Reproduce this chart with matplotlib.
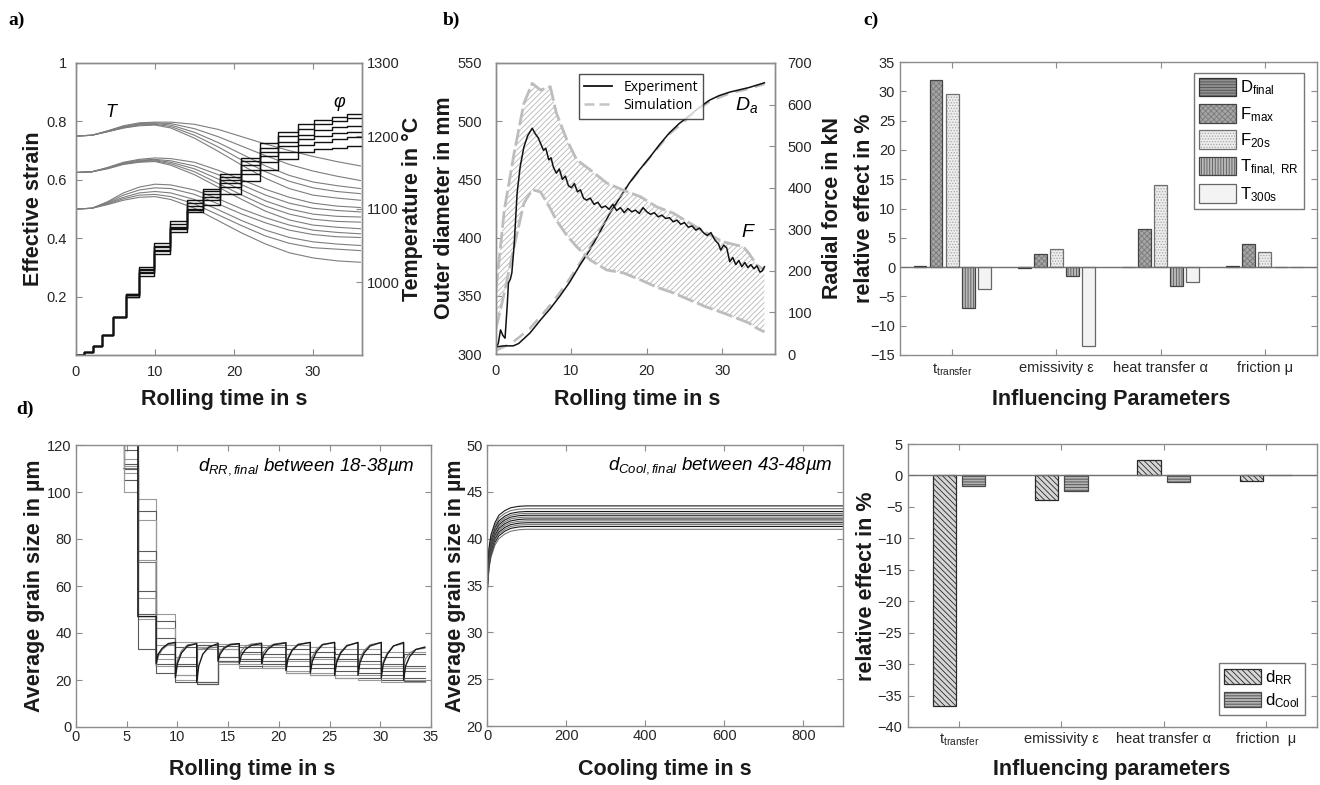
import matplotlib
matplotlib.use('Agg')
import matplotlib.pyplot as plt
from matplotlib.patches import Patch
from matplotlib.lines import Line2D
import numpy as np

plt.rcParams['font.family'] = ['Liberation Sans', 'DejaVu Sans']
plt.rcParams['mathtext.fontset'] = 'custom'
plt.rcParams['mathtext.rm'] = 'Liberation Sans'
plt.rcParams['mathtext.it'] = 'Liberation Sans:italic'
plt.rcParams['mathtext.default'] = 'regular'
plt.rcParams['hatch.linewidth'] = 0.6

# ---------------- a) strain staircases + temperature ----------------
strain_t = [0, 1.0, 2.2, 3.3, 4.7, 6.3, 8.0, 9.9, 11.9, 14.0, 16.1, 18.2, 20.9, 23.3, 25.6, 28.1, 30.1, 32.4, 34.3, 36.2]
strain_1 = [0, 0.01, 0.03, 0.07, 0.13, 0.21, 0.30, 0.385, 0.46, 0.53, 0.57, 0.62, 0.675, 0.725, 0.765, 0.79, 0.805, 0.815, 0.825, 0.825]
strain_2 = [0, 0.01, 0.03, 0.07, 0.13, 0.21, 0.295, 0.375, 0.45, 0.52, 0.56, 0.61, 0.665, 0.71, 0.75, 0.775, 0.79, 0.80, 0.81, 0.81]
strain_3 = [0, 0.01, 0.03, 0.07, 0.13, 0.205, 0.29, 0.37, 0.44, 0.51, 0.55, 0.60, 0.65, 0.695, 0.73, 0.755, 0.77, 0.78, 0.785, 0.785]
strain_4 = [0, 0.01, 0.03, 0.07, 0.13, 0.205, 0.285, 0.36, 0.435, 0.50, 0.54, 0.59, 0.635, 0.68, 0.715, 0.74, 0.75, 0.76, 0.765, 0.765]
strain_5 = [0, 0.01, 0.03, 0.07, 0.13, 0.20, 0.28, 0.355, 0.43, 0.495, 0.53, 0.575, 0.62, 0.66, 0.695, 0.72, 0.73, 0.74, 0.745, 0.745]
strain_6 = [0, 0.01, 0.03, 0.07, 0.13, 0.20, 0.27, 0.345, 0.42, 0.49, 0.515, 0.55, 0.595, 0.635, 0.67, 0.695, 0.705, 0.71, 0.715, 0.715]

temp_t = [0, 2, 4, 6, 8, 10, 12, 15, 18, 21, 24, 27, 30, 33, 36]
temp_1 = [1200, 1201, 1207, 1214, 1218, 1219, 1219, 1216, 1209, 1199, 1189, 1180, 1172, 1165, 1159]
temp_2 = [1200, 1201, 1207, 1213, 1217, 1218, 1217, 1210, 1199, 1186, 1173, 1161, 1152, 1145, 1139]
temp_3 = [1200, 1201, 1206, 1212, 1216, 1217, 1215, 1205, 1191, 1175, 1159, 1146, 1137, 1132, 1128]
temp_4 = [1200, 1201, 1206, 1211, 1215, 1216, 1213, 1201, 1185, 1167, 1151, 1138, 1129, 1124, 1121]
temp_5 = [1200, 1201, 1206, 1211, 1214, 1215, 1211, 1197, 1179, 1160, 1142, 1128, 1119, 1115, 1112]
temp_6 = [1150, 1151, 1157, 1164, 1168, 1170, 1169, 1164, 1153, 1140, 1127, 1116, 1108, 1104, 1102]
temp_7 = [1150, 1151, 1156, 1163, 1167, 1168, 1166, 1159, 1147, 1133, 1119, 1108, 1101, 1098, 1096]
temp_8 = [1150, 1151, 1156, 1162, 1166, 1167, 1164, 1155, 1141, 1126, 1111, 1100, 1093, 1090, 1089]
temp_9 = [1150, 1151, 1156, 1162, 1165, 1166, 1162, 1151, 1135, 1119, 1104, 1093, 1086, 1083, 1082]
temp_10 = [1150, 1151, 1155, 1161, 1164, 1165, 1160, 1147, 1130, 1113, 1097, 1085, 1078, 1075, 1073]
temp_11 = [1100, 1101, 1110, 1122, 1130, 1134, 1133, 1126, 1114, 1100, 1088, 1078, 1071, 1068, 1066]
temp_12 = [1100, 1101, 1109, 1119, 1126, 1129, 1128, 1120, 1107, 1093, 1081, 1071, 1065, 1062, 1061]
temp_13 = [1100, 1101, 1108, 1116, 1122, 1124, 1122, 1113, 1099, 1084, 1071, 1061, 1055, 1052, 1050]
temp_14 = [1100, 1101, 1107, 1114, 1119, 1120, 1117, 1107, 1092, 1077, 1063, 1053, 1047, 1045, 1043]
temp_15 = [1100, 1101, 1106, 1112, 1116, 1117, 1113, 1101, 1084, 1067, 1052, 1040, 1033, 1029, 1027]

# ---------------- b) diameter and radial force ----------------
d_exp_t = [0, 1, 2, 2.3, 3, 4.5, 6, 7.2, 8.5, 9.8, 11, 12.4, 13.8, 15.1, 16.4, 17.7, 19, 20.4, 21.7, 23.0, 24.3, 25.7, 27, 28.3, 29.6, 31.0, 32.3, 33.6, 35.6]
d_exp = [306, 307, 307, 307, 309, 318, 330, 339, 350, 362, 375, 389, 405, 421, 434, 447, 458, 469, 480, 490, 498, 505, 512, 518, 522, 525, 527, 529, 533]
d_sim_t = [0, 1, 2, 3, 4.5, 6, 7.2, 8.5, 9.8, 12.4, 15.1, 17.7, 20.4, 23.0, 25.7, 28.3, 31.0, 33.6, 35.6]
d_sim = [303, 306, 309, 314, 322, 333, 342, 353, 365, 391, 421, 447, 469, 489, 504, 517, 524, 528, 532]

f_exp_t = [0, 0.3, 0.6, 0.9, 1.2, 1.5, 1.65, 1.9, 2.1, 2.4, 2.8, 3.2, 3.7, 4.2, 4.8, 5.2, 5.6, 5.9, 6.3, 6.6,
           7.0, 7.3, 7.6, 8.0, 8.4, 8.8, 9.2, 9.6, 10.0, 10.4, 10.8, 11.2, 11.6, 12.0, 12.5, 13.0, 13.5, 14.0, 14.5, 15.0,
           15.5, 16.0, 16.5, 17.0, 17.5, 18.0, 18.5, 19.0, 19.5, 20.0, 20.5, 21.0, 21.5, 22.0, 22.5, 23.0, 23.5, 24.0, 24.5, 25.0,
           25.5, 26.0, 26.5, 27.0, 27.5, 28.0, 28.5, 29.0, 29.5, 29.8, 30.2, 30.6, 31.0, 31.4, 31.8, 32.2, 32.6, 33.0, 33.4, 33.8,
           34.2, 34.6, 35.0, 35.3, 35.6]
f_exp = [15, 25, 58, 45, 38, 120, 171, 180, 195, 260, 387, 450, 498, 525, 543, 530, 520, 507, 490, 495,
         467, 472, 450, 435, 445, 420, 428, 405, 400, 410, 390, 395, 375, 370, 375, 360, 365, 352, 356, 348,
         360, 345, 352, 340, 350, 342, 346, 338, 352, 342, 336, 340, 330, 334, 326, 328, 318, 322, 312, 316,
         305, 308, 298, 303, 292, 285, 292, 275, 265, 250, 262, 255, 222, 232, 215, 225, 210, 220, 208, 215,
         205, 212, 197, 200, 210]
f_sim_t = [0, 1.1, 2.4, 3.7, 4.8, 5.9, 7.2, 8.0, 9.4, 10.7, 12.5, 14.7, 16.9, 19.2, 21.3, 23.5, 25.7, 27.9, 30.1, 32.8, 33.5, 34.6, 35.6]
f_sim_hi = [154, 346, 483, 603, 651, 635, 643, 580, 515, 467, 443, 411, 394, 378, 354, 339, 315, 291, 270, 258, 243, 214, 202]
f_sim_lo = [60, 147, 258, 363, 395, 390, 350, 322, 285, 258, 226, 202, 195, 178, 161, 147, 130, 113, 99, 80, 75, 62, 53]

# ---------------- c) sensitivity, process quantities ----------------
c_params = ['t$_{transfer}$', 'emissivity ε', 'heat transfer α', 'friction μ']
c_names = ['D$_{final}$', 'F$_{max}$', 'F$_{20s}$', 'T$_{final,\\ RR}$', 'T$_{300s}$']
c_d_final = [0.2, -0.2, 0.0, 0.2]
c_f_max = [32.0, 2.3, 6.5, 4.0]
c_f_20s = [29.5, 3.1, 14.0, 2.6]
c_t_final = [-7.0, -1.5, -3.2, 0.0]
c_t_300s = [-3.8, -13.4, -2.5, 0.0]

# ---------------- d) grain size during rolling ----------------
g_pass_t = [4.7, 6.1, 7.9, 9.8, 11.9, 14.0, 16.1, 18.3, 20.7, 23.1, 25.5, 27.8, 30.1, 32.3, 34.4]
g_step_1 = [125, 97, 48, 36, 36, 35.5, 35, 35, 35, 34, 33, 33, 32, 32, 32]
g_step_2 = [118, 92, 45, 34, 35, 33, 32, 31, 31, 30, 29, 28, 27, 26, 26]
g_step_3 = [114, 88, 42, 30, 33, 30, 29, 28, 28, 27, 26, 25, 25, 25, 25]
g_step_4 = [112, 75, 38, 27, 19, 28, 28, 27, 26, 25, 24, 23, 22, 21, 21]
g_step_5 = [111, 71, 35, 26, 18.5, 27, 27, 26, 24, 23, 22, 22, 21, 20, 20]
g_step_6 = [110, 58, 31, 22, 19, 28, 26, 25, 23, 22, 21, 21, 20, 19.5, 19.5]
g_step_7 = [108, 55, 29, 20, 18.5, 27.5, 25, 25, 23, 22, 21, 20, 19, 19, 19]
g_step_8 = [105, 48, 27, 19, 18.5, 30, 29, 28, 29, 27, 26, 25, 24, 24, 24]
g_step_9 = [100, 46, 26, 22, 34, 33, 31, 30, 31, 29, 28, 27, 26, 25, 25]
g_step_10 = [120, 33, 23, 26, 35, 34.5, 34, 34, 33, 32, 31, 31, 30, 31, 31]

g_arcA_t = [4.7, 6.1, 6.1, 7.9, 7.9, 8.1, 8.5, 9.1, 9.8,
            9.8, 10.0, 10.4, 11.0, 11.9,
            11.9, 12.1, 12.5, 13.1, 14.0,
            14.0, 14.2, 14.6, 15.2, 16.1,
            16.1, 16.3, 16.7, 17.3, 18.3,
            18.3, 18.5, 18.9, 19.5, 20.7,
            20.7, 20.9, 21.3, 21.9, 23.1,
            23.1, 23.3, 23.7, 24.3, 25.5,
            25.5, 25.7, 26.1, 26.7, 27.8,
            27.8, 28.0, 28.4, 29.0, 30.1,
            30.1, 30.3, 30.7, 31.3, 32.3,
            32.3, 32.5, 32.9, 33.5, 34.4]
g_arcA = [120, 120, 47, 47, 27, 31, 33.5, 35.5, 36,
          21, 27, 31.5, 34.5, 35.5,
          19, 26, 31, 34, 35.5,
          28, 31, 33.5, 35, 35.5,
          27, 30.5, 33, 34.8, 35.5,
          27, 30.5, 33, 35, 35.8,
          24, 29, 32.5, 35, 36,
          23, 28, 32, 35, 36,
          22, 27.5, 31.5, 34.5, 36,
          22, 27.5, 31.5, 34.5, 36,
          21, 27, 31, 34.5, 36,
          20, 26, 30, 33, 34]
g_arcB_t = [4.7, 6.1, 6.1, 7.9, 7.9, 8.1, 8.5, 9.1, 9.8,
            9.8, 10.0, 10.4, 11.0, 11.9,
            11.9, 14.0,
            14.0, 14.2, 14.6, 15.2, 16.1,
            16.1, 16.3, 16.7, 17.3, 18.3,
            18.3, 18.5, 18.9, 19.5, 20.7,
            20.7, 20.9, 21.3, 21.9, 23.1,
            23.1, 23.3, 23.7, 24.3, 25.5,
            25.5, 25.7, 26.1, 26.7, 27.8,
            27.8, 28.0, 28.4, 29.0, 30.1,
            30.1, 30.3, 30.7, 31.3, 32.3,
            32.3, 32.5, 32.9, 33.5, 34.4]
g_arcB = [110, 110, 70, 70, 26, 30, 33, 35, 35.5,
          23, 28.5, 32.5, 35, 35.5,
          33, 34,
          29, 32, 34, 35.3, 35.5,
          30, 32.5, 34.3, 35.3, 35.8,
          29, 32, 34, 35.3, 36,
          25, 29.5, 33, 35.3, 36,
          26, 30, 33, 35.2, 36,
          24, 28.5, 32, 34.8, 35.8,
          25, 29, 32.5, 35, 36,
          24, 28, 31.5, 34.5, 35.5,
          26, 29, 31.5, 33, 33.5]

# ---------------- d) grain size during cooling ----------------
cool_t = [0, 5, 10, 20, 30, 45, 60, 80, 100, 130, 900]
cool_1 = [33.8, 36.8, 38.0, 39.3, 40.0, 40.5, 40.8, 40.95, 41.0, 41.0, 41.0]
cool_2 = [34.0, 37.0, 38.3, 39.6, 40.3, 40.8, 41.1, 41.25, 41.3, 41.3, 41.3]
cool_3 = [34.2, 37.2, 38.5, 39.8, 40.5, 41.0, 41.3, 41.45, 41.5, 41.5, 41.5]
cool_4 = [34.4, 37.4, 38.7, 40.0, 40.7, 41.2, 41.5, 41.65, 41.7, 41.7, 41.7]
cool_5 = [34.6, 37.6, 38.9, 40.2, 40.9, 41.4, 41.7, 41.85, 41.9, 41.9, 41.9]
cool_6 = [34.8, 37.8, 39.1, 40.4, 41.1, 41.6, 41.9, 42.05, 42.1, 42.1, 42.1]
cool_7 = [35.0, 38.0, 39.3, 40.6, 41.3, 41.8, 42.1, 42.25, 42.3, 42.3, 42.3]
cool_8 = [35.2, 38.2, 39.5, 40.8, 41.5, 42.0, 42.3, 42.45, 42.5, 42.5, 42.5]
cool_9 = [35.4, 38.4, 39.7, 41.0, 41.7, 42.2, 42.5, 42.65, 42.7, 42.7, 42.7]
cool_10 = [35.6, 38.6, 39.9, 41.2, 41.9, 42.4, 42.7, 42.85, 42.9, 42.9, 42.9]
cool_11 = [35.8, 38.8, 40.1, 41.4, 42.2, 42.7, 43.0, 43.15, 43.2, 43.2, 43.2]
cool_12 = [36.0, 39.0, 40.4, 41.7, 42.5, 43.0, 43.3, 43.45, 43.5, 43.5, 43.5]

# ---------------- d) sensitivity, grain size ----------------
g_params = ['t$_{transfer}$', 'emissivity ε', 'heat transfer α', 'friction  μ']
g_d_rr = [-36.7, -3.9, 2.4, -0.9]
g_d_cool = [-1.7, -2.5, -1.1, 0.0]

W, H = 1320, 785
fig = plt.figure(figsize=(W / 100, H / 100), dpi=100)
SPINE = '#8c8c8c'
TXT = '#262626'


def add_ax(l, t, r, b):
    return fig.add_axes([l / W, 1 - b / H, (r - l) / W, (b - t) / H])


def style(ax, xpad, ypad, box=True):
    for s in ax.spines.values():
        s.set_color(SPINE)
        s.set_linewidth(1)
    ax.tick_params(direction='in', length=4, width=0.8, color=SPINE,
                   labelsize=10.5, labelcolor=TXT)
    ax.tick_params(axis='x', pad=xpad)
    ax.tick_params(axis='y', pad=ypad)
    if box:
        ax.tick_params(top=True, right=True)


def label(x, y, s, rot=0, size=15.5):
    fig.text(x / W, 1 - y / H, s, rotation=rot, ha='center', va='center',
             fontsize=size, fontweight='bold', color='#1a1a1a')


def panel(x, y, s):
    fig.text(x / W, 1 - y / H, s, ha='left', va='center', fontsize=14,
             fontweight='bold', family='Liberation Serif')


def hatched_bar(ax, xs, vals, w, fc, hatch, hc, ec):
    ax.bar(xs, vals, w, color=fc, hatch=hatch, edgecolor=hc, linewidth=0)
    ax.bar(xs, vals, w, facecolor='none', edgecolor=ec, linewidth=0.9)
    return (Patch(facecolor=fc, hatch=hatch, edgecolor=hc, linewidth=0),
            Patch(facecolor='none', edgecolor=ec, linewidth=0.9))


# ---- a)
ax = add_ax(76, 63, 362, 355)
axT = ax.twinx()
style(ax, 7, 6.5, box=False)
style(axT, 7, 3.5, box=False)
ax.tick_params(top=True)
for T in [temp_1, temp_2, temp_3, temp_4, temp_5, temp_6, temp_7, temp_8,
          temp_9, temp_10, temp_11, temp_12, temp_13, temp_14, temp_15]:
    axT.plot(temp_t, T, color='#7d7d7d', lw=0.8)
for s in [strain_1, strain_2, strain_3, strain_4, strain_5, strain_6]:
    ax.step(strain_t, s, where='post', color='#111111', lw=1.0)
ax.set_zorder(axT.get_zorder() + 1)
ax.patch.set_visible(False)
ax.set_xlim(0, 36.2)
ax.set_ylim(0, 1)
axT.set_ylim(900, 1300)
ax.set_xticks([0, 10, 20, 30])
ax.set_yticks([0.2, 0.4, 0.6, 0.8, 1.0])
ax.set_yticklabels(['0.2', '0.4', '0.6', '0.8', '1'])
axT.set_yticks([1000, 1100, 1200, 1300])
ax.text(4.4, 0.83, 'T', fontsize=13, style='italic', ha='center', va='center')
ax.text(33.3, 0.865, 'φ', fontsize=13, style='italic', ha='center', va='center')
label(34, 209, 'Effective strain', rot=90)
label(412, 209, 'Temperature in °C', rot=90)
label(224, 400, 'Rolling time in s')
panel(8, 20, 'a)')

# ---- b)
ax = add_ax(496, 63, 775, 354)
axF = ax.twinx()
style(ax, 7, 10, box=False)
style(axF, 7, 9, box=False)
ax.plot(d_sim_t, d_sim, color='#bdbdbd', lw=1.8, ls=(0, (5, 3)))
ax.plot(d_exp_t, d_exp, color='#111111', lw=1.1)
axF.fill_between(f_sim_t, f_sim_lo, f_sim_hi, facecolor='none', edgecolor='#b5b5b5',
                 hatch='//////', linewidth=0)
axF.plot(f_sim_t, f_sim_hi, color='#bdbdbd', lw=2.0, ls=(0, (6, 1.5)))
axF.plot(f_sim_t, f_sim_lo, color='#bdbdbd', lw=2.0, ls=(0, (6, 1.5)))
axF.plot(f_exp_t, f_exp, color='#111111', lw=1.1)
ax.set_xlim(0, 37)
ax.set_ylim(300, 550)
axF.set_ylim(0, 700)
ax.set_xticks([0, 10, 20, 30])
ax.set_yticks([300, 350, 400, 450, 500, 550])
axF.set_yticks([0, 100, 200, 300, 400, 500, 600, 700])
axF.text(33.2, 598, 'D$_a$', fontsize=14, style='italic', ha='center', va='center')
axF.text(33.3, 292, 'F', fontsize=14, style='italic', ha='center', va='center')
handles = [Line2D([], [], color='#111111', lw=1.3),
           Line2D([], [], color='#c4c4c4', lw=1.8, ls=(0, (4, 2)))]
leg = axF.legend(handles, ['Experiment', 'Simulation'], loc='upper left',
                 bbox_to_anchor=(0.272, 0.985), fancybox=False, edgecolor='#222222',
                 prop={'family': 'Open Sans', 'size': 10}, handlelength=2.0,
                 borderpad=0.4, labelspacing=0.25)
leg.get_frame().set_linewidth(1.0)
label(445, 208, 'Outer diameter in mm', rot=90)
label(833, 208, 'Radial force in kN', rot=90)
label(637, 400, 'Rolling time in s')
panel(443, 20, 'b)')

# ---- c)
ax = add_ax(900, 62, 1317, 355)
style(ax, 4.5, 3.5)
x = np.arange(1, 5)
c_series = [c_d_final, c_f_max, c_f_20s, c_t_final, c_t_300s]
c_faces = ['#8f8f8f', '#a6a6a6', '#ededed', '#b8b8b8', '#f3f3f3']
c_hatch = ['------', 'xxxxxx', '......', '||||||', '']
c_hcol = ['#505050', '#7a7a7a', '#a8a8a8', '#5a5a5a', '#f3f3f3']
c_edges = ['#333333', '#444444', '#707070', '#444444', '#666666']
offs = [-0.308, -0.154, 0.0, 0.154, 0.308]
c_handles = []
for vals, fc, h, hc, ec, o in zip(c_series, c_faces, c_hatch, c_hcol, c_edges, offs):
    c_handles.append(hatched_bar(ax, x + o, vals, 0.123, fc, h, hc, ec))
ax.axhline(0, color='#6f6f6f', lw=1)
ax.set_xlim(0.5, 4.5)
ax.set_ylim(-15, 35)
ax.set_yticks(range(-15, 40, 5))
ax.set_xticks(x)
ax.set_xticklabels(c_params)
leg = ax.legend(c_handles, c_names, loc='upper right', bbox_to_anchor=(0.988, 0.992),
                fancybox=False, edgecolor='#555555', fontsize=12, handlelength=2.2,
                handleheight=1.35, labelspacing=0.4, handletextpad=0.25, borderpad=0.3)
leg.get_frame().set_linewidth(1.0)
label(865, 208, 'relative effect in %', rot=90)
label(1111, 400, 'Influencing Parameters')
panel(863, 20, 'c)')

# ---- d) rolling
ax = add_ax(76, 445, 431, 727)
style(ax, 2.5, 3)
steps = [g_step_1, g_step_2, g_step_3, g_step_4, g_step_5, g_step_6, g_step_7,
         g_step_8, g_step_9, g_step_10]
for i, lv in enumerate(steps):
    c = '#5a5a5a' if i % 2 else '#9a9a9a'
    ax.plot([g_pass_t[0], g_pass_t[0]], [130, lv[0]], color=c, lw=0.8)
    ax.step(g_pass_t, lv, where='post', color=c, lw=0.8)
ax.plot(g_arcB_t, g_arcB, color='#7a7a7a', lw=0.8)
ax.plot(g_arcA_t, g_arcA, color='#1a1a1a', lw=1.0)
ax.set_xlim(0, 35)
ax.set_ylim(0, 120)
ax.set_xticks(range(0, 40, 5))
ax.set_yticks(range(0, 140, 20))
ax.text(33.4, 111, r'$\mathit{d}_{\mathit{RR,final}}$ between 18-38µm', fontsize=13.5,
        style='italic', ha='right', va='center')
label(35, 586, 'Average grain size in µm', rot=90)
label(252, 770, 'Rolling time in s')
panel(16, 409, 'd)')

# ---- d) cooling
ax = add_ax(487, 445, 843, 726)
style(ax, 2.5, 3)
for i, cv in enumerate([cool_1, cool_2, cool_3, cool_4, cool_5, cool_6,
                        cool_7, cool_8, cool_9, cool_10, cool_11, cool_12]):
    ax.plot(cool_t, cv, color='#1a1a1a' if i % 2 else '#777777', lw=0.8)
ax.set_xlim(0, 900)
ax.set_ylim(20, 50)
ax.set_xticks([0, 200, 400, 600, 800])
ax.set_yticks(range(20, 55, 5))
ax.text(875, 47.8, r'$\mathit{d}_{\mathit{Cool,final}}$ between 43-48µm', fontsize=13.5,
        style='italic', ha='right', va='center')
label(455, 586, 'Average grain size in µm', rot=90)
label(665, 770, 'Cooling time in s')

# ---- d) sensitivity grain size
ax = add_ax(908, 444, 1317, 727)
style(ax, 3.5, 4)
h_rr = hatched_bar(ax, x - 0.143, g_d_rr, 0.229, '#d6d6d6', '\\\\\\\\\\\\', '#2a2a2a', '#2a2a2a')
h_cool = hatched_bar(ax, x + 0.143, g_d_cool, 0.229, '#b2b2b2', '------', '#4a4a4a', '#4a4a4a')
ax.axhline(0, color='#6f6f6f', lw=1)
ax.set_xlim(0.5, 4.5)
ax.set_ylim(-40, 5)
ax.set_yticks(range(-40, 10, 5))
ax.set_xticks(x)
ax.set_xticklabels(g_params)
leg = ax.legend([h_rr, h_cool], ['d$_{RR}$', 'd$_{Cool}$'], loc='lower right',
                bbox_to_anchor=(0.99, 0.012), fancybox=False, edgecolor='#555555',
                fontsize=12, handlelength=2.2, handleheight=1.0, labelspacing=0.3,
                handletextpad=0.25, borderpad=0.3)
leg.get_frame().set_linewidth(1.0)
label(867, 586, 'relative effect in %', rot=90)
label(1112, 770, 'Influencing parameters')

fig.savefig('out.png', dpi=100)
